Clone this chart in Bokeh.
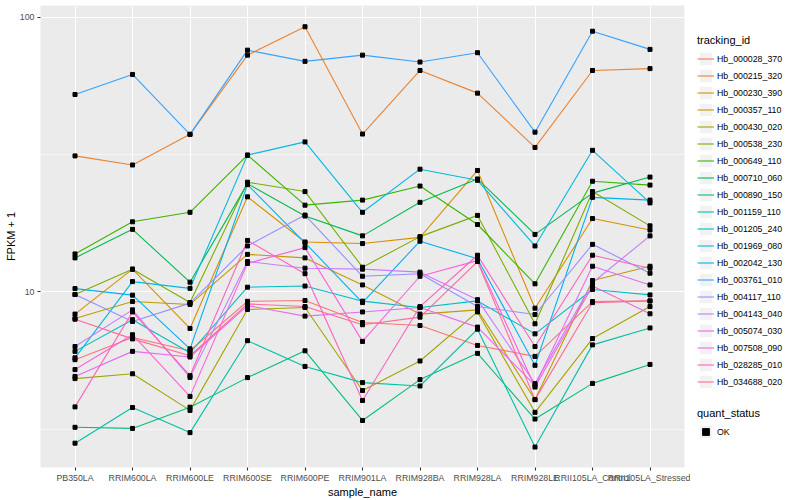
import math
from bokeh.plotting import figure
from bokeh.layouts import row
from bokeh.models import (ColumnDataSource, FactorRange, Range1d, FixedTicker,
                          PrintfTickFormatter, Legend, LegendItem)
from bokeh.embed import file_html
from bokeh.resources import INLINE

samples = ["PB350LA", "RRIM600LA", "RRIM600LE", "RRIM600SE", "RRIM600PE", "RRIM901LA",
           "RRIM928BA", "RRIM928LA", "RRIM928LE", "RRII105LA_Control", "RRII105LA_Stressed"]

tracking_ids = ["Hb_000028_370", "Hb_000215_320", "Hb_000230_390", "Hb_000357_110",
                "Hb_000430_020", "Hb_000538_230", "Hb_000649_110", "Hb_000710_060",
                "Hb_000890_150", "Hb_001159_110", "Hb_001205_240", "Hb_001969_080",
                "Hb_002042_130", "Hb_003761_010", "Hb_004117_110", "Hb_004143_040",
                "Hb_005074_030", "Hb_007508_090", "Hb_028285_010", "Hb_034688_020"]

Hb_000028_370 = [5.66, 6.82, 6.1, 9.24, 9.3, 7.73, 7.54, 6.38, 5.82, 9.22, 9.27]
Hb_000215_320 = [31.3, 29.0, 37.5, 72.9, 92.5, 37.6, 64.1, 53.0, 33.6, 64.1, 65.1]
Hb_000230_390 = [8.3, 12.1, 7.36, 22.2, 15.2, 15.0, 15.8, 27.7, 8.72, 18.5, 16.8]
Hb_000357_110 = [8.0, 9.22, 9.0, 13.7, 13.3, 10.6, 8.3, 8.6, 4.05, 11.0, 12.4]
Hb_000430_020 = [4.83, 5.03, 3.7, 8.63, 8.77, 4.37, 5.60, 8.45, 3.64, 6.76, 8.84]
Hb_000538_230 = [9.78, 12.1, 9.14, 25.1, 23.2, 12.3, 15.9, 19.0, 7.65, 23.2, 17.4]
Hb_000649_110 = [13.75, 18.0, 19.5, 31.5, 20.7, 21.6, 24.3, 17.6, 10.7, 25.3, 24.5]
Hb_000710_060 = [13.3, 16.9, 10.85, 24.8, 18.9, 16.0, 21.2, 25.8, 16.2, 22.9, 26.2]
Hb_000890_150 = [3.21, 3.18, 3.80, 4.87, 6.10, 3.40, 4.79, 5.97, 3.44, 4.64, 5.44]
Hb_001159_110 = [2.81, 3.79, 3.07, 6.64, 5.35, 4.67, 4.54, 7.31, 2.72, 6.41, 7.39]
Hb_001205_240 = [6.07, 7.92, 6.0, 10.4, 10.5, 9.25, 8.77, 9.27, 7.03, 10.2, 9.75]
Hb_001969_080 = [5.75, 10.9, 10.3, 31.5, 35.2, 19.5, 28.0, 25.5, 14.7, 32.8, 21.1]
Hb_002042_130 = [10.28, 9.73, 6.2, 24.6, 15.1, 9.14, 15.3, 13.2, 5.40, 22.1, 21.6]
Hb_003761_010 = [52.4, 62.0, 37.5, 76.0, 69.2, 72.9, 68.8, 74.4, 38.2, 89.1, 76.5]
Hb_004117_110 = [9.78, 7.8, 9.1, 14.7, 19.05, 11.4, 11.65, 8.84, 8.27, 14.9, 11.7]
Hb_004143_040 = [6.32, 8.6, 4.88, 12.9, 12.2, 12.1, 11.8, 9.37, 4.63, 10.8, 16.0]
Hb_005074_030 = [4.92, 6.07, 5.79, 8.91, 8.16, 8.45, 8.77, 7.44, 4.56, 12.4, 10.6]
Hb_007508_090 = [5.21, 6.98, 4.16, 12.7, 14.5, 6.6, 11.4, 13.0, 4.50, 10.5, 8.32]
Hb_028285_010 = [3.81, 8.45, 4.95, 15.4, 11.65, 4.02, 8.84, 13.6, 6.32, 13.6, 12.2]
Hb_034688_020 = [7.95, 6.74, 5.85, 9.04, 8.84, 7.59, 8.09, 12.9, 4.05, 9.14, 9.27]

series_values = [Hb_000028_370, Hb_000215_320, Hb_000230_390, Hb_000357_110,
                 Hb_000430_020, Hb_000538_230, Hb_000649_110, Hb_000710_060,
                 Hb_000890_150, Hb_001159_110, Hb_001205_240, Hb_001969_080,
                 Hb_002042_130, Hb_003761_010, Hb_004117_110, Hb_004143_040,
                 Hb_005074_030, Hb_007508_090, Hb_028285_010, Hb_034688_020]

quant_status = ["OK"]
y_tick_values = [10, 100]


def hcl_hex(h, c=100.0, l=65.0):
    hr = math.radians(h)
    U, V = c * math.cos(hr), c * math.sin(hr)
    Xn, Yn, Zn = 95.047, 100.0, 108.883
    Y = Yn * ((l + 16) / 116) ** 3
    den = Xn + 15 * Yn + 3 * Zn
    un, vn = 4 * Xn / den, 9 * Yn / den
    u = U / (13 * l) + un
    v = V / (13 * l) + vn
    X = 9.0 * Y * u / (4 * v)
    Z = -X / 3 - 5 * Y + 3 * Y / v
    rgb = [(3.240479 * X - 1.537150 * Y - 0.498535 * Z) / 100,
           (-0.969256 * X + 1.875992 * Y + 0.041556 * Z) / 100,
           (0.055648 * X - 0.204043 * Y + 1.057311 * Z) / 100]
    out = []
    for ch in rgb:
        ch = 1.055 * ch ** (1 / 2.4) - 0.055 if ch > 0.0031308 else 12.92 * ch
        out.append(int(round(min(max(ch, 0), 1) * 255)))
    return "#%02X%02X%02X" % tuple(out)


n = len(tracking_ids)
colors = [hcl_hex(15 + 360.0 * i / n) for i in range(n)]

FONT = "Liberation Sans"
H = 500

p = figure(width=690, height=H,
           x_range=FactorRange(*samples, range_padding=0.2 / len(samples)),
           y_range=Range1d(10 ** 0.36, 10 ** 2.0436), y_axis_type="log",
           output_backend="svg", toolbar_location=None,
           min_border_left=40, min_border_right=6, min_border_top=5, min_border_bottom=32)

p.background_fill_color = "#EBEBEB"
p.border_fill_color = "white"
p.outline_line_color = None

sources = []
for vals in series_values:
    sources.append(ColumnDataSource(dict(x=samples, y=vals)))
for src, col in zip(sources, colors):
    p.line("x", "y", source=src, line_color=col, line_width=1.1)
for src in sources:
    p.scatter("x", "y", source=src, marker="square", size=4, color="black")

ticker = FixedTicker(ticks=y_tick_values, minor_ticks=[10 ** 0.5, 10 ** 1.5])
p.yaxis.ticker = ticker
p.yaxis.formatter = PrintfTickFormatter(format="%d")
p.ygrid.ticker = ticker
p.ygrid.grid_line_color = "white"
p.ygrid.grid_line_width = 1.1
p.ygrid.minor_grid_line_color = "white"
p.ygrid.minor_grid_line_width = 0.55
p.xgrid.grid_line_color = "white"
p.xgrid.grid_line_width = 1.1

for ax in (p.xaxis[0], p.yaxis[0]):
    ax.axis_line_color = None
    ax.major_tick_line_color = "#333333"
    ax.major_tick_line_width = 1.1
    ax.major_tick_in = 0
    ax.major_tick_out = 3
    ax.minor_tick_line_color = None
    ax.major_label_text_font = FONT
    ax.major_label_text_font_size = "8.8px"
    ax.major_label_text_color = "#4D4D4D"
    ax.major_label_standoff = 2
    ax.axis_label_text_font = FONT
    ax.axis_label_text_font_size = "11px"
    ax.axis_label_text_font_style = "normal"
    ax.axis_label_text_color = "black"
    ax.axis_label_standoff = 0

p.xaxis.axis_label = "sample_name"
p.yaxis.axis_label = "FPKM + 1"

# ---- legend panel (separate figure so the legends are not clipped) ----
lf = figure(width=106, height=H, x_range=Range1d(0, 1), y_range=Range1d(0, 1),
            output_backend="svg", toolbar_location=None,
            x_axis_location=None, y_axis_location=None,
            min_border=0, min_border_left=0, min_border_right=0,
            min_border_top=0, min_border_bottom=0)
lf.outline_line_color = None
lf.background_fill_color = "white"
lf.border_fill_color = "white"
lf.xgrid.visible = False
lf.ygrid.visible = False

NA = [float("nan")]
box = lf.quad(left=NA, right=NA, top=NA, bottom=NA, fill_color="#F2F2F2",
              line_color="white", line_width=1)
key_lines = [lf.line(x=NA, y=NA, line_color=col, line_width=1.1) for col in colors]
ok_pt = lf.scatter(x=NA, y=NA, marker="square", size=4, color="black")


def style_legend(lg):
    lg.title_text_font = FONT
    lg.title_text_font_size = "11px"
    lg.title_text_font_style = "normal"
    lg.title_text_color = "black"
    lg.title_standoff = 4
    lg.label_text_font = FONT
    lg.label_text_font_size = "8.8px"
    lg.label_text_color = "black"
    lg.label_standoff = 3
    lg.glyph_width = 17
    lg.glyph_height = 17
    lg.label_height = 17
    lg.spacing = 0
    lg.padding = 0
    lg.margin = 0
    lg.border_line_color = None
    lg.background_fill_alpha = 0


leg1 = Legend(items=[LegendItem(label=tid, renderers=[box, r])
                     for tid, r in zip(tracking_ids, key_lines)],
              title="tracking_id", location=(7, 77))
style_legend(leg1)
lf.add_layout(leg1)

leg2 = Legend(items=[LegendItem(label=quant_status[0], renderers=[box, ok_pt])],
              title="quant_status", location=(7, 27))
style_legend(leg2)
lf.add_layout(leg2)

layout = row(p, lf, spacing=0)
open("out.html", "w").write(file_html(layout, INLINE))
